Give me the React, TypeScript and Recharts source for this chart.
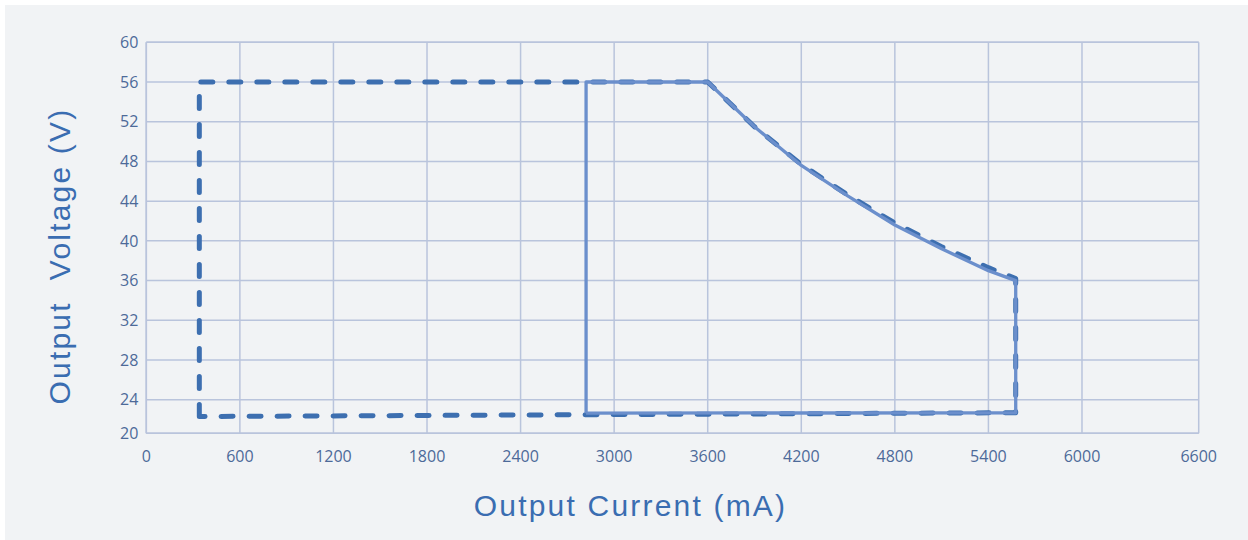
import React from "react";
import { CartesianGrid, Line, LineChart, XAxis, YAxis } from "recharts";

// dashed envelope (outer limit)
const dashedCurrent = [340, 340, 3600, 3900, 4200, 4500, 4800, 5100, 5400, 5575, 5575, 340];
const dashedVoltage = [22.0, 56, 56, 51.5, 47.7, 44.6, 41.8, 39.4, 37.3, 36.2, 22.45, 22.0];

// solid working area
const solidCurrent = [2820, 2820, 3600, 3900, 4200, 4500, 4800, 5100, 5400, 5575, 5575, 2820];
const solidVoltage = [22.4, 56, 56, 51.5, 47.6, 44.5, 41.6, 39.2, 37.0, 36.0, 22.45, 22.4];

const currentTicks = [0, 600, 1200, 1800, 2400, 3000, 3600, 4200, 4800, 5400, 6000, 6600];
const voltageTicks = [20, 24, 28, 32, 36, 40, 44, 48, 52, 56, 60];

const dashedData = dashedCurrent.map((c, i) => ({ c, v: dashedVoltage[i] }));
const solidData = solidCurrent.map((c, i) => ({ c, v: solidVoltage[i] }));

// the source chart has uneven axis spacing (last interval stretched),
// so use a small piecewise-linear scale
function brokenScale(stops: number[], fracs: number[], dom?: number[], rng?: number[]) {
  let d = dom || [stops[0], stops[stops.length - 1]];
  let r = rng || [0, 1];
  const frac = (v: number) => {
    for (let i = 1; i < stops.length; i++) {
      if (v <= stops[i] || i === stops.length - 1) {
        const t = (v - stops[i - 1]) / (stops[i] - stops[i - 1]);
        return fracs[i - 1] + t * (fracs[i] - fracs[i - 1]);
      }
    }
    return 0;
  };
  const scale: any = (v: number) => r[0] + frac(v) * (r[1] - r[0]);
  scale.domain = (x?: number[]) => {
    if (x === undefined) return d;
    d = x;
    return scale;
  };
  scale.range = (x?: number[]) => {
    if (x === undefined) return r;
    r = x;
    return scale;
  };
  scale.copy = () => brokenScale(stops, fracs, d.slice(), r.slice());
  scale.ticks = () => stops;
  return scale;
}

const xScale = brokenScale([0, 6000, 6600], [0, 0.8891, 1]);
const yScale = brokenScale([20, 24, 60], [0, 0.0859, 1]);

const gridColor = "#b9c4dc";
const tickStyle = { fill: "#4d6a99", fontSize: 16, fontFamily: "Open Sans" };
const titleStyle: React.CSSProperties = {
  position: "absolute",
  width: 600,
  height: 30,
  lineHeight: "30px",
  fontSize: 30,
  fontFamily: "Liberation Sans",
  letterSpacing: 2.2,
  color: "#3a6db1",
  textAlign: "center",
  whiteSpace: "pre",
};

const App = () => {
  return (
    <div style={{ position: "absolute", left: 0, top: 0, width: 1248, height: 540, background: "#ffffff" }}>
      <div style={{ position: "absolute", left: 5, top: 5, right: 0, bottom: 0, background: "#f1f3f5" }} />
      <div style={{ position: "absolute", left: 0, top: 0 }}>
        <LineChart width={1248} height={540} margin={{ top: 42.3, right: 49.3, bottom: 66.7, left: 86.3 }}>
          <CartesianGrid stroke={gridColor} strokeWidth={1.5} />
          <XAxis
            type="number"
            dataKey="c"
            domain={[0, 6600]}
            ticks={currentTicks}
            scale={xScale}
            height={40}
            tickLine={false}
            tickMargin={11}
            axisLine={{ stroke: gridColor, strokeWidth: 1.5 }}
            tick={tickStyle}
            interval={0}
          />
          <YAxis
            type="number"
            dataKey="v"
            domain={[20, 60]}
            ticks={voltageTicks}
            scale={yScale}
            width={60}
            tickLine={false}
            axisLine={{ stroke: gridColor, strokeWidth: 1.5 }}
            tick={tickStyle}
            interval={0}
          />
          <Line
            data={dashedData}
            dataKey="v"
            type="linear"
            stroke="#3d6fb0"
            strokeWidth={5}
            strokeDasharray="12 16"
            strokeLinecap="round"
            strokeLinejoin="round"
            dot={false}
            isAnimationActive={false}
          />
          <Line
            data={solidData}
            dataKey="v"
            type="linear"
            stroke="#6b8fcc"
            strokeWidth={3.3}
            strokeLinejoin="round"
            dot={false}
            isAnimationActive={false}
          />
        </LineChart>
      </div>
      <div style={{ ...titleStyle, left: 330.5, top: 491 }}>Output Current (mA)</div>
      <div style={{ ...titleStyle, left: -240, top: 240.5, transform: "rotate(-90deg)" }}>Output  Voltage (V)</div>
    </div>
  );
};

export default App;
